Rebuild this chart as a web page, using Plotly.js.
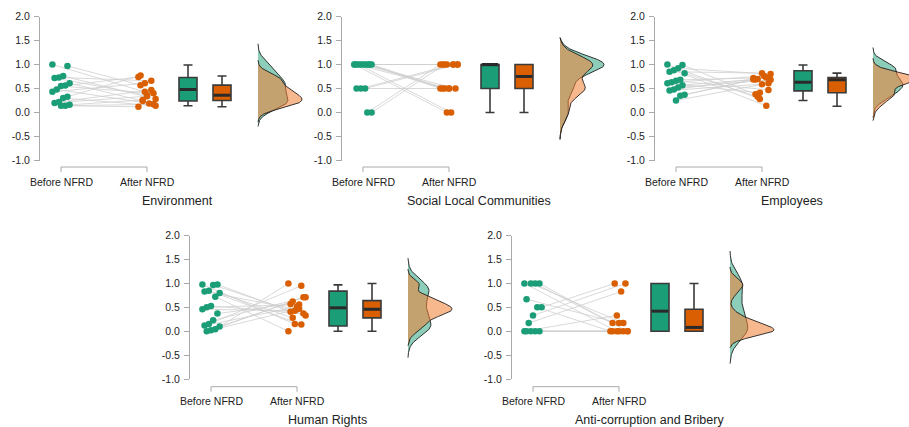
<!DOCTYPE html>
<html><head><meta charset="utf-8">
<script src="https://cdn.plot.ly/plotly-3.0.1.min.js"></script>
<style>html,body{margin:0;padding:0;background:#fff}#chart{width:909px;height:427px}</style>
</head><body><div id="chart"></div>
<script>
// ---------- data ----------
const categories = ['Before NFRD', 'After NFRD'];
const panelTitles = ['Environment', 'Social Local Communities', 'Employees', 'Human Rights', 'Anti-corruption and Bribery'];
const tickVals = [-1, -0.5, 0, 0.5, 1, 1.5, 2];
const tickText = ['-1.0', '-0.5', '0.0', '0.5', '1.0', '1.5', '2.0'];

const envBefore = [1.00, 0.97, 0.76, 0.73, 0.72, 0.61, 0.56, 0.55, 0.48, 0.43, 0.33, 0.30, 0.22, 0.20, 0.16, 0.14, 0.14];
const envAfter  = [0.43, 0.57, 0.28, 0.66, 0.36, 0.24, 0.74, 0.40, 0.19, 0.61, 0.77, 0.14, 0.47, 0.34, 0.26, 0.12, 0.17];

const socBefore = [1, 1, 1, 1, 1, 1, 1, 1, 1, 1, 1, 0.5, 0.5, 0.5, 0, 0];
const socAfter  = [1, 1, 1, 1, 0.5, 0.5, 0.5, 0.5, 0, 0, 0.5, 1, 1, 0.5, 1, 1];

const empBefore = [1.00, 0.99, 0.92, 0.88, 0.85, 0.82, 0.68, 0.66, 0.63, 0.61, 0.57, 0.52, 0.48, 0.46, 0.37, 0.35, 0.25];
const empAfter  = [0.28, 0.38, 0.80, 0.14, 0.82, 0.33, 0.72, 0.47, 0.76, 0.41, 0.69, 0.68, 0.73, 0.59, 0.70, 0.69, 0.61];

const humBefore = [0.98, 0.98, 0.97, 0.85, 0.83, 0.80, 0.72, 0.53, 0.50, 0.46, 0.37, 0.23, 0.15, 0.12, 0.10, 0.04, 0.02, 0.00];
const humAfter  = [0.15, 0.41, 0.33, 0.14, 0.46, 0.28, 0.00, 0.37, 0.56, 0.43, 0.57, 0.71, 0.95, 0.51, 0.62, 1.00, 0.71, 0.47];

const antBefore = [1, 1, 1, 1, 0.67, 0.5, 0.5, 0.33, 0.17, 0, 0, 0, 0, 0];
const antAfter  = [0, 0.17, 0, 0.17, 0.17, 1.0, 0, 1.0, 0.83, 0.33, 0, 0, 0, 0];

// box statistics per panel (Environment, Social, Employees, Human Rights, Anti-corruption)
const boxLowBefore  = [0.14, 0.00, 0.25, 0.00, 0.00];
const boxQ1Before   = [0.24, 0.50, 0.45, 0.11, 0.00];
const boxMedBefore  = [0.48, 1.00, 0.63, 0.49, 0.42];
const boxQ3Before   = [0.73, 1.00, 0.87, 0.84, 1.00];
const boxHighBefore = [0.99, 1.00, 0.99, 0.97, 1.00];

const boxLowAfter  = [0.12, 0.00, 0.13, 0.00, 0.00];
const boxQ1After   = [0.25, 0.50, 0.41, 0.28, 0.00];
const boxMedAfter  = [0.36, 0.75, 0.68, 0.46, 0.08];
const boxQ3After   = [0.57, 1.00, 0.73, 0.64, 0.46];
const boxHighAfter = [0.76, 1.00, 0.82, 1.00, 1.00];

// ---------- layout / style ----------
const W = 909, H = 427;
const GREEN = '#1b9e77', ORANGE = '#d95f02';
const GREEN_FILL = 'rgba(27,158,119,0.5)', ORANGE_FILL = 'rgba(242,125,50,0.55)';
const FONT = 'Liberation Sans, Arial, sans-serif';
const PXU = 86;             // pixels per x unit
const xLeft = 1 - 21 / PXU; // axis line 21px left of "Before"
const posBox1 = xLeft + 148 / PXU, posBox2 = xLeft + 182 / PXU, posDens = xLeft + 218 / PXU;
const boxW = 18 / PXU, densW = 44 / PXU;
const panelLeft = [40, 342, 655, 190, 512];
const panelRow = [0, 0, 0, 1, 1];
const rows = [
  {top: 16.5, bottom: 160.5, axis: 167, tick: 172, label: 182, title: 201},
  {top: 235.7, bottom: 379, axis: 386.7, tick: 391.7, label: 401, title: 420}
];
const panels = [[envBefore, envAfter], [socBefore, socAfter], [empBefore, empAfter], [humBefore, humAfter], [antBefore, antAfter]];

function q7(s, p) { const h = (s.length - 1) * p, lo = Math.floor(h), hi = Math.ceil(h); return s[lo] + (h - lo) * (s[hi] - s[lo]); }
function bwNrd0(x) {
  const n = x.length, m = x.reduce((a, b) => a + b, 0) / n;
  const sd = Math.sqrt(x.reduce((a, b) => a + (b - m) * (b - m), 0) / (n - 1));
  const s = [...x].sort((a, b) => a - b);
  let lo = Math.min(sd, (q7(s, 0.75) - q7(s, 0.25)) / 1.34);
  if (!lo) lo = sd || Math.abs(s[0]) || 1;
  return 0.9 * lo * Math.pow(n, -0.2);
}
function kde(x) {
  const bw = bwNrd0(x), mn = Math.min(...x) - 3 * bw, mx = Math.max(...x) + 3 * bw, N = 256;
  const ys = [], ds = [];
  for (let k = 0; k < N; k++) {
    const y = mn + (mx - mn) * k / (N - 1);
    let s = 0;
    for (const v of x) { const z = (y - v) / bw; s += Math.exp(-0.5 * z * z); }
    ys.push(y); ds.push(s / (x.length * bw * Math.sqrt(2 * Math.PI)));
  }
  return {ys, ds};
}
function jit(j, k) { return (((j * 7 + k * 4) % 9) - 4) / 4 * 0.1; }

const traces = [], shapes = [], annotations = [];
const layout = {
  width: W, height: H, margin: {l: 0, r: 0, t: 0, b: 0}, showlegend: false,
  paper_bgcolor: '#fff', plot_bgcolor: 'rgba(0,0,0,0)', font: {family: FONT, color: '#222'}
};

panels.forEach(([bef, aft], i) => {
  const s = i === 0 ? '' : String(i + 1);
  const xa = 'x' + s, ya = 'y' + s;
  const r = rows[panelRow[i]];
  const L = panelLeft[i];
  const R = Math.min(L + 270, W);
  layout['xaxis' + s] = {
    domain: [L / W, R / W], range: [xLeft, xLeft + (R - L) / PXU], visible: false, fixedrange: true, anchor: ya
  };
  layout['yaxis' + s] = {
    domain: [1 - r.bottom / H, 1 - r.top / H], range: [-1, 2], anchor: xa,
    tickvals: tickVals, ticktext: tickText, ticks: 'outside', ticklen: 5, tickcolor: '#aaa',
    showline: true, linecolor: '#aaa', linewidth: 1, showgrid: false, zeroline: false,
    tickfont: {size: 10.5, color: '#222', family: FONT}, ticklabelstandoff: 2, fixedrange: true
  };

  // connecting lines
  const lx = [], ly = [];
  bef.forEach((b, j) => { lx.push(1 + jit(j, 0), 2 + jit(j, 3), null); ly.push(b, aft[j], null); });
  traces.push({type: 'scatter', mode: 'lines', x: lx, y: ly, xaxis: xa, yaxis: ya,
    line: {color: '#cfcfcf', width: 0.8}, hoverinfo: 'skip'});
  traces.push({type: 'scatter', mode: 'markers', x: bef.map((b, j) => 1 + jit(j, 0)), y: bef, xaxis: xa, yaxis: ya,
    marker: {color: GREEN, size: 6.5}, hoverinfo: 'skip'});
  traces.push({type: 'scatter', mode: 'markers', x: aft.map((a, j) => 2 + jit(j, 3)), y: aft, xaxis: xa, yaxis: ya,
    marker: {color: ORANGE, size: 6.5}, hoverinfo: 'skip'});

  // boxes
  [[posBox1, boxLowBefore, boxQ1Before, boxMedBefore, boxQ3Before, boxHighBefore, GREEN],
   [posBox2, boxLowAfter, boxQ1After, boxMedAfter, boxQ3After, boxHighAfter, ORANGE]].forEach(([p, lo, q1, md, q3, hi, col]) => {
    traces.push({type: 'box', x: [p], q1: [q1[i]], median: [md[i]], q3: [q3[i]], lowerfence: [lo[i]], upperfence: [hi[i]],
      width: boxW, whiskerwidth: 0.5, fillcolor: col, line: {color: '#3a3a3a', width: 1.6}, boxpoints: false,
      xaxis: xa, yaxis: ya, hoverinfo: 'skip'});
    traces.push({type: 'scatter', mode: 'lines', x: [p - boxW / 2 + 0.01, p + boxW / 2 - 0.01], y: [md[i], md[i]],
      xaxis: xa, yaxis: ya, line: {color: '#2a2a2a', width: 3}, hoverinfo: 'skip'});
  });

  // half densities
  const kg = kde(bef), ko = kde(aft);
  const scale = densW / Math.max(Math.max(...kg.ds), Math.max(...ko.ds));
  [[kg, GREEN_FILL], [ko, ORANGE_FILL]].forEach(([k, fill]) => {
    const x = [posDens, ...k.ds.map(d => posDens + d * scale), posDens];
    const y = [k.ys[0], ...k.ys, k.ys[k.ys.length - 1]];
    traces.push({type: 'scatter', mode: 'lines', x, y, fill: 'toself', fillcolor: fill,
      line: {color: '#1e1e1e', width: 0.9}, xaxis: xa, yaxis: ya, hoverinfo: 'skip'});
  });

  // category bracket axis
  const yA = 1 - r.axis / H, yT = 1 - r.tick / H;
  shapes.push({type: 'line', xref: xa, yref: 'paper', x0: 1, x1: 2, y0: yA, y1: yA, line: {color: '#aaa', width: 1}});
  [1, 2].forEach(c => shapes.push({type: 'line', xref: xa, yref: 'paper', x0: c, x1: c, y0: yA, y1: yT, line: {color: '#aaa', width: 1}}));
  categories.forEach((c, k) => annotations.push({xref: xa, yref: 'paper', x: k + 1, y: 1 - r.label / H,
    text: c, showarrow: false, xanchor: 'center', yanchor: 'middle', font: {size: 10.5, color: '#222', family: FONT}}));
  annotations.push({xref: xa, yref: 'paper', x: xLeft + 137 / PXU, y: 1 - r.title / H, text: panelTitles[i],
    showarrow: false, xanchor: 'center', yanchor: 'middle', font: {size: 12.5, color: '#222', family: FONT}});
});
layout.shapes = shapes;
layout.annotations = annotations;

Plotly.newPlot('chart', traces, layout, {displayModeBar: false, staticPlot: true});
</script>
</body></html>
